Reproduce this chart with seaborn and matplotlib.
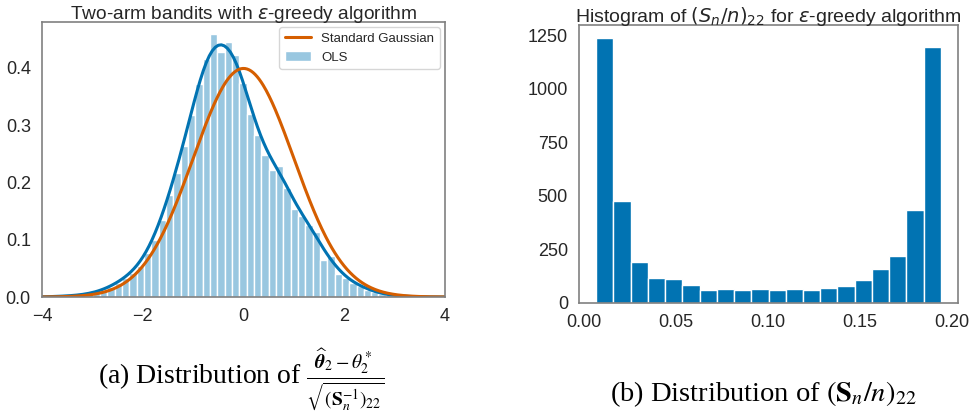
import numpy as np
import pandas as pd
import matplotlib
matplotlib.use("Agg")
import matplotlib.pyplot as plt
import seaborn as sns

# left panel: normalised OLS histogram (50 bins)
ols_left_edge = -3.868
ols_bin_width = 0.1455
ols_density = [
    0.001, 0.001, 0.002, 0.002, 0.004, 0.005, 0.008, 0.012, 0.018, 0.025,
    0.033, 0.042, 0.055, 0.076, 0.100, 0.135, 0.178, 0.216, 0.263, 0.318,
    0.371, 0.415, 0.459, 0.428, 0.445, 0.423, 0.374, 0.320, 0.283, 0.247,
    0.222, 0.228, 0.190, 0.154, 0.141, 0.126, 0.113, 0.065, 0.071, 0.041,
    0.033, 0.024, 0.019, 0.013, 0.008, 0.005, 0.003, 0.002, 0.001, 0.001,
]

# right panel: counts of (S_n/n)_22 in 20 bins
sn_left_edge = 0.00673
sn_bin_width = 0.00937
sn_counts = [1236, 478, 190, 115, 111, 83, 61, 64, 62, 65,
             59, 65, 62, 72, 78, 108, 157, 220, 432, 1194]

left_xticks = [-4, -2, 0, 2, 4]
left_yticks = [0.0, 0.1, 0.2, 0.3, 0.4]
right_xticks = [0.00, 0.05, 0.10, 0.15, 0.20]
right_yticks = [0, 250, 500, 750, 1000, 1250]

blue = "#0173b2"
orange = "#d55e00"

sns.set_theme(style="white", palette="colorblind")
plt.rcParams["font.family"] = ["Liberation Sans", "DejaVu Sans"]
plt.rcParams["axes.edgecolor"] = ".5"
plt.rcParams["axes.linewidth"] = 1.2

fig = plt.figure(figsize=(9.74, 4.15), dpi=100)

# ---- (a) ----
ax1 = fig.add_axes([0.0431, 0.2843, 0.4138, 0.6627])
n1 = len(ols_density)
ols_lo = ols_left_edge
ols_hi = ols_left_edge + ols_bin_width * n1
ols_df = pd.DataFrame({
    "x": ols_lo + ols_bin_width * (np.arange(n1) + 0.5),
    "w": ols_density,
})
sns.histplot(data=ols_df, x="x", weights="w", bins=n1, binrange=(ols_lo, ols_hi),
             color=blue, alpha=0.4, edgecolor="white", linewidth=1.0,
             label="OLS", ax=ax1)
sns.kdeplot(data=ols_df, x="x", weights="w", bw_adjust=0.41, cut=6,
            color=blue, linewidth=2.2, ax=ax1)
gx = np.linspace(-4, 4, 400)
gauss = np.exp(-gx ** 2 / 2) / np.sqrt(2 * np.pi)
ax1.plot(gx, gauss, color=orange, linewidth=2.2, label="Standard Gaussian")
ax1.set_xlim(-4, 4)
ax1.set_ylim(0, 0.48)
ax1.set_xticks(left_xticks)
ax1.set_yticks(left_yticks)
ax1.set_xlabel("")
ax1.set_ylabel("")
ax1.tick_params(labelsize=13, pad=2)
ax1.set_title(r"Two-arm bandits with $\varepsilon$-greedy algorithm",
              fontsize=13.8, pad=2)
h, l = ax1.get_legend_handles_labels()
order = [l.index("Standard Gaussian"), l.index("OLS")]
ax1.legend([h[i] for i in order], [l[i] for i in order],
           loc="upper right", fontsize=9.5, frameon=True,
           borderaxespad=0.4)

# ---- (b) ----
ax2 = fig.add_axes([0.5945, 0.2699, 0.3891, 0.6699])
n2 = len(sn_counts)
sn_lo = sn_left_edge
sn_hi = sn_left_edge + sn_bin_width * n2
sn_df = pd.DataFrame({
    "x": sn_lo + sn_bin_width * (np.arange(n2) + 0.5),
    "w": sn_counts,
})
sns.histplot(data=sn_df, x="x", weights="w", bins=n2, binrange=(sn_lo, sn_hi),
             color=blue, alpha=1.0, edgecolor="white", linewidth=1.0,
             ax=ax2)
ax2.set_xticks(right_xticks)
ax2.set_xticklabels([f"{t:.2f}" for t in right_xticks])
ax2.set_yticks(right_yticks)
ax2.set_xlabel("")
ax2.set_ylabel("")
ax2.tick_params(labelsize=13, pad=2)
ax2.set_title(r"Histogram of $(S_n/n)_{22}$ for $\varepsilon$-greedy algorithm",
              fontsize=14, pad=2)

# captions
fig.text(0.248, 0.084,
         r"(a) Distribution of $\frac{\widehat{\boldsymbol{\theta}}_2-\theta_2^*}"
         r"{\sqrt{(\mathbf{S}_n^{-1})_{22}}}$",
         ha="center", va="center", fontsize=20, family="Liberation Serif",
         math_fontfamily="stix", color="black")
fig.text(0.784, 0.05, r"(b) Distribution of $(\mathbf{S}_n/n)_{22}$",
         ha="center", va="center", fontsize=20.5, family="Liberation Serif",
         math_fontfamily="stix", color="black")

fig.savefig("out.png", dpi=100)
